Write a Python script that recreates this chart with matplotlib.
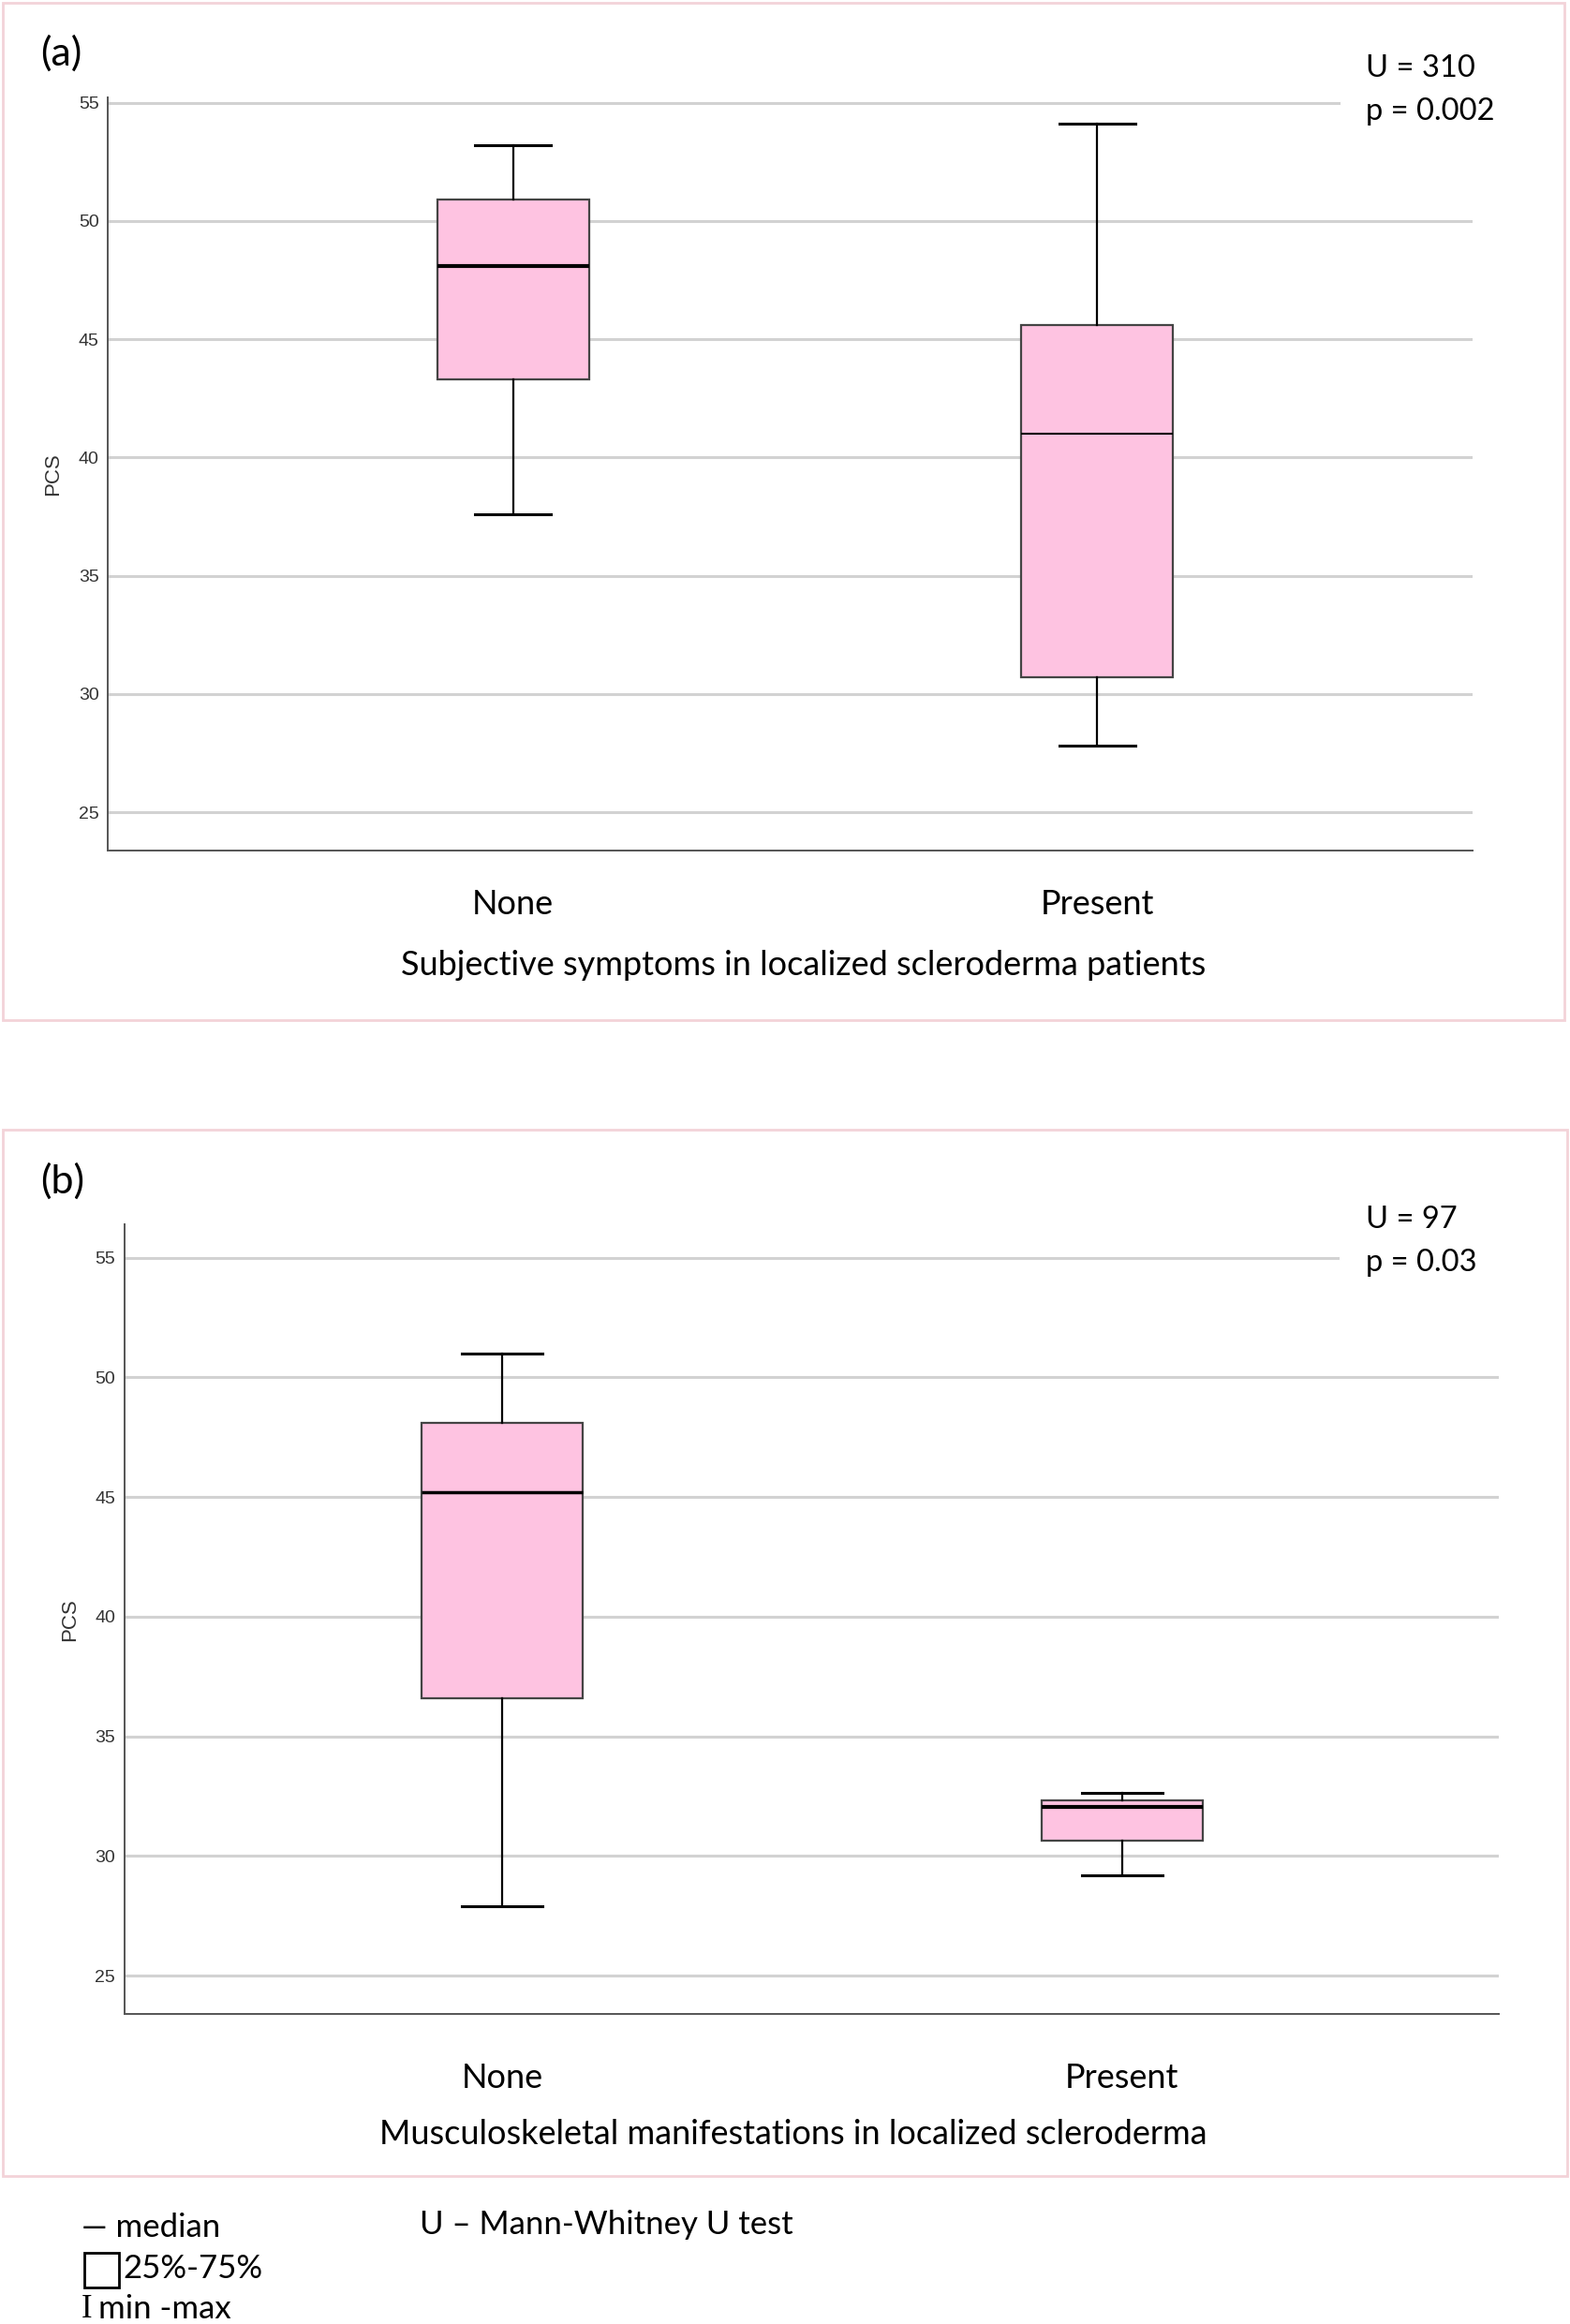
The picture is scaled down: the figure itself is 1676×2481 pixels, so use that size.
import matplotlib
matplotlib.use("Agg")
import matplotlib.pyplot as plt
from matplotlib.patches import Rectangle

# ---- data ----
groups = ["None", "Present"]
yticks = [25, 30, 35, 40, 45, 50, 55]

# (a) Subjective symptoms
a_min = [37.6, 27.8]
a_q1 = [43.3, 30.7]
a_med = [48.1, 41.0]
a_q3 = [50.9, 45.6]
a_max = [53.2, 54.1]
a_stats = ["U = 310", "p = 0.002"]

# (b) Musculoskeletal manifestations
b_min = [27.9, 29.2]
b_q1 = [36.6, 30.65]
b_med = [45.2, 32.07]
b_q3 = [48.1, 32.33]
b_max = [51.0, 32.62]
b_stats = ["U = 97", "p = 0.03"]

BOX_FILL = "#fec3e1"
FRAME = "#f3d3d8"
GRID = "#d2d2d2"
TXT_FONT = ["Lato", "DejaVu Sans"]
AX_FONT = ["Liberation Sans", "DejaVu Sans"]

fig = plt.figure(figsize=(16.76, 24.81), dpi=100)


def draw_panel(rect, frame, tag, stats_txt, mins, q1s, meds, q3s, maxs,
               xlim, ylim, grid_short, xlabel, med_lw, xpad):
    # pink panel border
    fig.patches.append(Rectangle((frame[0], frame[1]), frame[2], frame[3],
                                 transform=fig.transFigure, fill=False,
                                 edgecolor=FRAME, linewidth=2))
    ax = fig.add_axes(rect)
    for y in yticks:
        ax.axhline(y, color=GRID, linewidth=2.2, zorder=0,
                   xmax=grid_short if y == yticks[-1] else 1)
    for i in range(len(groups)):
        st = [dict(med=meds[i], q1=q1s[i], q3=q3s[i],
                   whislo=mins[i], whishi=maxs[i], fliers=[])]
        ax.bxp(st, positions=[i], widths=0.26, patch_artist=True,
               showfliers=False, manage_ticks=False,
               boxprops=dict(facecolor=BOX_FILL, edgecolor="#444444", linewidth=1.6),
               medianprops=dict(color="black", linewidth=med_lw[i]),
               whiskerprops=dict(color="black", linewidth=1.6),
               capprops=dict(color="black", linewidth=2.2), capwidths=0.13)
    ax.set_xlim(*xlim)
    ax.set_ylim(*ylim)
    ax.set_yticks(yticks)
    ax.set_yticklabels([str(v) for v in yticks], fontsize=14,
                       family=AX_FONT, color="#333333")
    ax.set_xticks(range(len(groups)))
    ax.set_xticklabels(groups, fontsize=26, family=TXT_FONT)
    ax.tick_params(axis="x", length=0, pad=xpad)
    ax.tick_params(axis="y", length=0, pad=7)
    for s in ["top", "right"]:
        ax.spines[s].set_visible(False)
    for s in ["left", "bottom"]:
        ax.spines[s].set_color("#555555")
        ax.spines[s].set_linewidth(1.4)
    ax.set_ylabel("PCS", fontsize=16, family=AX_FONT, color="#333333", labelpad=12)

    fig.text(0.0255, tag[1], tag[0], fontsize=31, family=TXT_FONT, va="center")
    fig.text(0.8697, stats_txt[2], stats_txt[0], fontsize=23.5, family=TXT_FONT, va="center")
    fig.text(0.8697, stats_txt[3], stats_txt[1], fontsize=23.5, family=TXT_FONT, va="center")
    fig.text(xlabel[1], xlabel[2], xlabel[0], fontsize=26, family=TXT_FONT,
             ha="center", va="center")
    return ax


draw_panel([0.0689, 0.6339, 0.8688, 0.3240], (0.0019, 0.5612, 0.9943, 0.4375),
           ("(a)", 0.977), (a_stats[0], a_stats[1], 0.9707, 0.9522),
           a_min, a_q1, a_med, a_q3, a_max,
           (-0.693, 1.642), (23.37, 55.2), 0.902,
           ("Subjective symptoms in localized scleroderma patients", 0.5118, 0.5848),
           [3.0, 1.5], 29)

draw_panel([0.0793, 0.1333, 0.8754, 0.3399], (0.0019, 0.0638, 0.9961, 0.4502),
           ("(b)", 0.4917), (b_stats[0], b_stats[1], 0.4751, 0.4566),
           b_min, b_q1, b_med, b_q3, b_max,
           (-0.61, 1.608), (23.39, 56.4), 0.883,
           ("Musculoskeletal manifestations in localized scleroderma", 0.505, 0.0816),
           [2.5, 3.0], 37)

# key below the panels
fig.text(0.0519, 0.0415, "\u2014 median", fontsize=25, family=TXT_FONT, va="center")
fig.patches.append(Rectangle((0.0538, 0.0159), 0.0217, 0.0147,
                             transform=fig.transFigure, fill=False,
                             edgecolor="black", linewidth=2))
fig.text(0.0784, 0.0236, "25%-75%", fontsize=25, family=TXT_FONT, va="center")
fig.text(0.0519, 0.0064, "I", fontsize=25, family=["Liberation Serif", "DejaVu Serif"],
         va="center")
fig.text(0.0625, 0.0064, "min -max", fontsize=25, family=TXT_FONT, va="center")
fig.text(0.2672, 0.0427, "U \u2013 Mann-Whitney U test", fontsize=25,
         family=TXT_FONT, va="center")

fig.savefig("out.png", dpi=100, facecolor="white")
